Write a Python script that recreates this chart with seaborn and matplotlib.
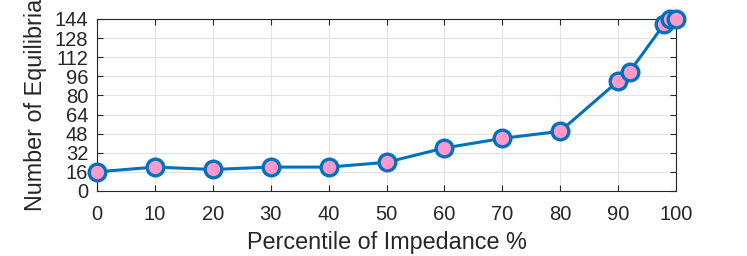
import matplotlib

matplotlib.use("Agg")

import matplotlib.pyplot as plt
import pandas as pd
import seaborn as sns

percentile = [0, 10, 20, 30, 40, 50, 60, 70, 80, 90, 92, 98, 99, 100]
equilibria = [16, 20, 18, 20, 20, 24, 36, 44, 50, 92, 100, 140, 144, 144]
x_ticks = [0, 10, 20, 30, 40, 50, 60, 70, 80, 90, 100]
y_ticks = [0, 16, 32, 48, 64, 80, 96, 112, 128, 144]

df = pd.DataFrame({"percentile": percentile, "equilibria": equilibria})

sns.set_theme(style="white")
plt.rcParams["font.family"] = ["Liberation Sans", "DejaVu Sans"]

fig = plt.figure(figsize=(7.47, 2.56), dpi=100)
ax = fig.add_axes([0.130, 0.254, 0.775, 0.672])

sns.lineplot(
    data=df,
    x="percentile",
    y="equilibria",
    ax=ax,
    color="#0072BD",
    linewidth=2.2,
    marker="o",
    markersize=12,
    markerfacecolor="#FF99CC",
    markeredgecolor="#0072BD",
    markeredgewidth=2.4,
    clip_on=False,
    zorder=3,
)

ax.set_xlim(0, 100)
ax.set_ylim(0, 144)
ax.set_xticks(x_ticks)
ax.set_yticks(y_ticks)
ax.grid(True, color="#E3E3E3", linewidth=0.8)
ax.set_axisbelow(True)
ax.tick_params(
    direction="in", length=4, width=0.8, colors="#262626",
    labelsize=14.5, top=True, right=True, left=True, bottom=True,
)
ax.tick_params(axis="x", pad=10)
ax.tick_params(axis="y", pad=6.5)
for spine in ax.spines.values():
    spine.set_color("#262626")
    spine.set_linewidth(0.8)
ax.set_xlabel("Percentile of Impedance %", fontsize=16.8, color="#262626")
ax.set_ylabel("Number of Equilibria", fontsize=16.8, color="#262626")
ax.xaxis.set_label_coords(0.5, -0.23)
ax.yaxis.set_label_coords(-0.087, 0.5)

fig.savefig("out.png", dpi=100)
